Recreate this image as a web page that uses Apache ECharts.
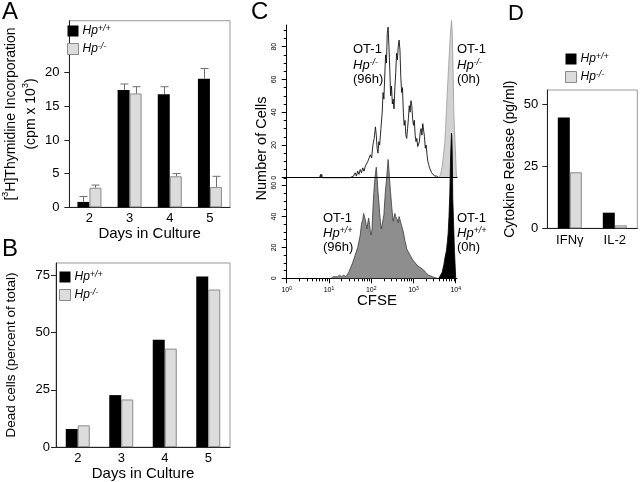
<!DOCTYPE html>
<html><head><meta charset="utf-8">
<script src="https://cdn.jsdelivr.net/npm/echarts@6/dist/echarts.min.js"></script>
<style>html,body{margin:0;padding:0;background:#fff}#c{width:640px;height:482px}</style>
</head><body><div id="c"></div>
<script>
const FONT = '"Liberation Sans", Arial, Helvetica, sans-serif';

// ---- Panel A: [3H]Thymidine incorporation ----
const days = ['2', '3', '4', '5'];
const thymWT = [0.8, 17.4, 16.8, 19.1];
const thymWTErr = [0.8, 0.9, 1.1, 1.5];
const thymKO = [2.9, 16.9, 4.6, 3.0];
const thymKOErr = [0.4, 1.0, 0.4, 1.6];
const thymTicks = [0, 5, 10, 15, 20];

// ---- Panel B: dead cells ----
const deadWT = [7.9, 22.7, 46.9, 74.5];
const deadKO = [9.5, 20.8, 43.0, 68.8];
const deadTicks = [0, 25, 50, 75];

// ---- Panel D: cytokine release ----
const cytokines = ['IFNγ', 'IL-2'];
const cytoWT = [44.7, 6.3];
const cytoKO = [22.6, 1.2];
const cytoTicks = [0, 25, 50];

// ---- Panel C: CFSE histograms (x = log10 CFSE, y = number of cells) ----
const cfseDecades = [0, 1, 2, 3, 4];
const cellsTicksTop = [0, 20, 40, 60, 80];
const cellsTicksBottom = [0, 20, 40, 60];
const ko96h = [[0.78,0],[0.80,2],[0.81,0],[0.83,2],[0.84,0],[1.50,0],[1.58,1],[1.62,3],[1.65,1],[1.68,4],[1.71,2],[1.74,5],[1.77,3],[1.80,6],[1.83,4],[1.86,7],[1.89,6],[1.92,10],[1.95,9],[1.98,14],[2.01,12],[2.04,20],[2.07,24],[2.10,31],[2.12,26],[2.14,18],[2.16,15],[2.18,22],[2.20,20],[2.23,30],[2.26,40],[2.28,52],[2.30,48],[2.32,62],[2.34,75],[2.36,70],[2.38,88],[2.40,92],[2.42,80],[2.44,66],[2.46,50],[2.48,56],[2.50,45],[2.52,48],[2.54,42],[2.56,55],[2.58,64],[2.60,76],[2.62,72],[2.64,80],[2.66,84],[2.68,78],[2.70,62],[2.72,52],[2.74,55],[2.76,40],[2.78,32],[2.80,35],[2.82,26],[2.84,24],[2.86,30],[2.88,36],[2.90,44],[2.92,40],[2.94,47],[2.96,44],[2.98,36],[3.00,32],[3.02,35],[3.04,26],[3.06,22],[3.08,24],[3.10,19],[3.12,18],[3.14,22],[3.16,28],[3.18,30],[3.20,26],[3.22,33],[3.24,32],[3.26,25],[3.28,18],[3.30,20],[3.32,14],[3.34,10],[3.36,8],[3.38,6],[3.40,5],[3.43,3],[3.46,2],[3.50,1],[3.55,1],[3.60,0]];
const ko0h = [[3.60,0],[3.64,2],[3.68,7],[3.71,14],[3.74,21],[3.76,30],[3.78,41],[3.80,52],[3.82,62],[3.84,72],[3.86,82],[3.88,90],[3.90,96],[3.92,88],[3.94,62],[3.955,40],[3.97,29],[3.99,18],[4.01,5],[4.02,0]];
const wt96h = [[1.05,0],[1.10,1],[1.20,1],[1.25,2],[1.30,1],[1.35,2],[1.40,1],[1.44,2],[1.47,4],[1.50,5],[1.53,8],[1.56,10],[1.59,9],[1.62,15],[1.65,14],[1.68,20],[1.71,24],[1.74,28],[1.77,35],[1.80,38],[1.82,42],[1.84,43],[1.86,38],[1.88,35],[1.90,32],[1.92,36],[1.94,39],[1.96,35],[1.98,30],[2.00,28],[2.02,32],[2.04,45],[2.06,55],[2.08,62],[2.10,68],[2.12,72],[2.14,65],[2.16,56],[2.18,50],[2.20,42],[2.22,36],[2.24,32],[2.26,35],[2.28,38],[2.30,41],[2.32,50],[2.34,58],[2.36,63],[2.38,70],[2.40,77],[2.42,70],[2.44,62],[2.46,55],[2.48,48],[2.50,42],[2.52,37],[2.54,38],[2.56,42],[2.58,40],[2.60,41],[2.62,38],[2.64,36],[2.66,40],[2.68,38],[2.70,39],[2.72,34],[2.74,32],[2.76,30],[2.78,27],[2.80,24],[2.82,22],[2.84,19],[2.86,20],[2.88,17],[2.90,16],[2.92,15],[2.95,14],[2.98,12],[3.01,11],[3.04,10],[3.07,9],[3.10,8],[3.13,7.5],[3.16,7],[3.20,6],[3.24,5.4],[3.28,4],[3.32,3],[3.36,2],[3.40,1.7],[3.45,1],[3.50,0.5],[3.56,0]];
const wt0h = [[3.60,0],[3.64,1],[3.68,4],[3.72,9],[3.75,14],[3.78,18],[3.80,23],[3.82,29],[3.84,40],[3.86,55],[3.87,68],[3.88,80],[3.90,94],[3.91,90],[3.92,78],[3.93,52],[3.95,35],[3.97,18],[3.99,6],[4.00,0]];

const cfseMinor = [];
for (let n = 0; n < 4; n++) for (let k = 2; k <= 9; k++) cfseMinor.push(n + Math.log10(k));
const topMinor = []; for (let v = 0; v <= 90; v += 5) topMinor.push(v);
const botMinor = []; for (let v = 0; v <= 65; v += 5) botMinor.push(v);

const chart = echarts.init(document.getElementById('c'), null, {renderer: 'canvas'});

const supRich = {
  i: {fontFamily: FONT, fontStyle: 'italic', fontSize: 12, color: '#000', lineHeight: 14},
  s: {fontFamily: FONT, fontStyle: 'italic', fontSize: 9, color: '#000', verticalAlign: 'top', lineHeight: 10}
};
const annRich = {
  i: {fontFamily: FONT, fontStyle: 'italic', fontSize: 13, fill: '#000', lineHeight: 15},
  s: {fontFamily: FONT, fontStyle: 'italic', fontSize: 9, fill: '#000', verticalAlign: 'top', lineHeight: 10}
};
const LIGHT = '#dcdcdc', LIGHTB = '#8a8a8a', AX = '#222';

function legendAt(left, top) {
  return {
    left, top, orient: 'vertical', padding: 0, itemWidth: 11, itemHeight: 11, itemGap: 5,
    selectedMode: false, icon: 'rect',
    data: [
      {name: 'Hp+/+', itemStyle: {color: '#000', borderWidth: 0}},
      {name: 'Hp-/-', itemStyle: {color: LIGHT, borderColor: LIGHTB, borderWidth: 1}}
    ],
    formatter: n => n === 'Hp+/+' ? '{i|Hp}{s|+/+}' : '{i|Hp}{s|-/-}',
    textStyle: {rich: supRich, padding: [0, 0, 0, -1]}
  };
}
function gridBox(left, top, width, height) {
  return {left, top, width, height, show: true, borderColor: '#9a9a9a', borderWidth: 1, backgroundColor: 'transparent', containLabel: false};
}
function catAxis(gi, data, margin, name, gap) {
  return {
    gridIndex: gi, type: 'category', data,
    axisLine: {lineStyle: {color: AX, width: 1}}, axisTick: {show: false},
    axisLabel: {margin, fontSize: 13, fontFamily: FONT, color: '#000'},
    name, nameLocation: 'middle', nameGap: gap,
    nameTextStyle: {fontSize: 15, fontFamily: FONT, color: '#000'}
  };
}
function valAxis(gi, max, ticks, margin, name, gap, fs, rich) {
  return {
    gridIndex: gi, type: 'value', min: 0, max,
    axisLine: {show: true, lineStyle: {color: AX, width: 1}},
    axisTick: {show: true, length: 5, customValues: ticks, lineStyle: {color: AX}},
    axisLabel: {customValues: ticks, margin, fontSize: 13, fontFamily: FONT, color: '#000'},
    splitLine: {show: false},
    name, nameLocation: 'middle', nameGap: gap,
    nameTextStyle: {fontSize: fs, fontFamily: FONT, color: '#000', lineHeight: 20, rich: rich || {}}
  };
}

function errItem(params, api) {
  const cat = api.value(0), v = api.value(1), e = api.value(2), side = api.value(3);
  const p0 = api.coord([cat, v]);
  const p1 = api.coord([cat, v + e]);
  const x = Math.round(p0[0] + side * 6) + 0.5;
  const st = {stroke: '#6e6e6e', lineWidth: 1};
  return {type: 'group', children: [
    {type: 'line', shape: {x1: x, y1: p0[1], x2: x, y2: p1[1]}, style: st},
    {type: 'line', shape: {x1: x - 4, y1: p1[1], x2: x + 4, y2: p1[1]}, style: st}
  ]};
}

const cAxisLine = {show: true, lineStyle: {color: '#000', width: 1}};
const smallRich = {
  b: {fontSize: 7, fontFamily: FONT, color: '#000'},
  s: {fontSize: 5, fontFamily: FONT, color: '#000', verticalAlign: 'top'}
};

function gtext(x, y, text, size, extra) {
  return {type: 'text', x, y, silent: true, style: Object.assign({text, fontFamily: FONT, fontSize: size, fill: '#000', align: 'left', verticalAlign: 'middle'}, extra || {})};
}
function hpText(x, y, sup) {
  return {type: 'text', x, y, silent: true, style: {text: '{i|Hp}{s|' + sup + '}', rich: annRich, fill: '#000', align: 'left', verticalAlign: 'middle'}};
}

const option = {
  animation: false,
  backgroundColor: '#fff',
  textStyle: {fontFamily: FONT},
  grid: [
    gridBox(60, 20.7, 170, 186.6),      // A
    gridBox(52, 263, 178, 186.3),       // B
    gridBox(547.3, 90, 90, 138.3),      // D
    {left: 286.7, top: 25, width: 170.3, height: 152.7, show: false},   // C top
    {left: 286.7, top: 177.7, width: 170.3, height: 100.6, show: false} // C bottom
  ],
  legend: [legendAt(67, 24), legendAt(59, 270), legendAt(565, 52)],
  xAxis: [
    catAxis(0, days, 5, 'Days in Culture', 15),
    catAxis(1, days, 5, 'Days in Culture', 15),
    catAxis(2, cytokines, 6, '', 15),
    {gridIndex: 3, type: 'value', position: 'bottom', min: 0, max: 4.03, z: 10, axisLine: cAxisLine, axisTick: {show: false}, axisLabel: {show: false}, splitLine: {show: false}},
    {gridIndex: 4, type: 'value', position: 'bottom', min: 0, max: 4.03, axisLine: cAxisLine,
      axisTick: {show: true, length: 5, customValues: cfseDecades, lineStyle: {color: '#000'}},
      axisLabel: {customValues: cfseDecades, margin: 8, formatter: v => '{b|10}{s|' + v + '}', rich: smallRich},
      splitLine: {show: false}},
    {gridIndex: 4, type: 'value', position: 'bottom', offset: 0, min: 0, max: 4.03, axisLine: {show: false},
      axisTick: {show: true, length: 3, customValues: cfseMinor, lineStyle: {color: '#000'}},
      axisLabel: {show: false}, splitLine: {show: false}}
  ],
  yAxis: [
    valAxis(0, 27.7, thymTicks, 10, '[{s|3}H]Thymidine Incorporation\n(cpm x 10{s|3})', 20, 14,
      {s: {fontSize: 9, fontFamily: FONT, color: '#000', verticalAlign: 'top', lineHeight: 10}}),
    valAxis(1, 80.4, deadTicks, 6, 'Dead cells (percent of total)', 35, 13.5),
    valAxis(2, 55.8, cytoTicks, 9, 'Cytokine Release (pg/ml)', 25, 14),
    {gridIndex: 3, type: 'value', position: 'left', min: 0, max: 93.25, axisLine: cAxisLine,
      axisTick: {show: true, length: 5, customValues: cellsTicksTop, lineStyle: {color: '#000'}},
      axisLabel: {customValues: cellsTicksTop, rotate: 90, margin: 9, fontSize: 7, fontFamily: FONT, color: '#000'},
      splitLine: {show: false}},
    {gridIndex: 3, type: 'value', position: 'left', offset: 0, min: 0, max: 93.25, axisLine: {show: false},
      axisTick: {show: true, length: 3, customValues: topMinor, lineStyle: {color: '#000'}},
      axisLabel: {show: false}, splitLine: {show: false}},
    {gridIndex: 4, type: 'value', position: 'left', min: 0, max: 65.2, axisLine: cAxisLine,
      axisTick: {show: true, length: 5, customValues: cellsTicksBottom, lineStyle: {color: '#000'}},
      axisLabel: {customValues: cellsTicksBottom, rotate: 90, margin: 9, fontSize: 7, fontFamily: FONT, color: '#000'},
      splitLine: {show: false}},
    {gridIndex: 4, type: 'value', position: 'left', offset: 0, min: 0, max: 65.2, axisLine: {show: false},
      axisTick: {show: true, length: 3, customValues: botMinor, lineStyle: {color: '#000'}},
      axisLabel: {show: false}, splitLine: {show: false}}
  ],
  series: [
    // A
    {type: 'bar', name: 'Hp+/+', xAxisIndex: 0, yAxisIndex: 0, data: thymWT, barWidth: 12, barGap: '0%', itemStyle: {color: '#000'}, silent: true},
    {type: 'bar', name: 'Hp-/-', xAxisIndex: 0, yAxisIndex: 0, data: thymKO, barWidth: 12, barGap: '0%', itemStyle: {color: LIGHT, borderColor: LIGHTB, borderWidth: 1}, silent: true},
    {type: 'custom', name: 'errWT', xAxisIndex: 0, yAxisIndex: 0, renderItem: errItem, encode: {x: 0, y: 1}, silent: true, z: 3,
      data: thymWT.map((v, i) => [i, v, thymWTErr[i], -1])},
    {type: 'custom', name: 'errKO', xAxisIndex: 0, yAxisIndex: 0, renderItem: errItem, encode: {x: 0, y: 1}, silent: true, z: 3,
      data: thymKO.map((v, i) => [i, v, thymKOErr[i], 1])},
    // B
    {type: 'bar', name: 'Hp+/+', xAxisIndex: 1, yAxisIndex: 1, data: deadWT, barWidth: 12, barGap: '0%', itemStyle: {color: '#000'}, silent: true},
    {type: 'bar', name: 'Hp-/-', xAxisIndex: 1, yAxisIndex: 1, data: deadKO, barWidth: 12, barGap: '0%', itemStyle: {color: LIGHT, borderColor: LIGHTB, borderWidth: 1}, silent: true},
    // D
    {type: 'bar', name: 'Hp+/+', xAxisIndex: 2, yAxisIndex: 2, data: cytoWT, barWidth: 12, barGap: '0%', itemStyle: {color: '#000'}, silent: true},
    {type: 'bar', name: 'Hp-/-', xAxisIndex: 2, yAxisIndex: 2, data: cytoKO, barWidth: 12, barGap: '0%', itemStyle: {color: LIGHT, borderColor: LIGHTB, borderWidth: 1}, silent: true},
    // C
    {type: 'line', name: 'OT-1 Hp-/- (0h)', xAxisIndex: 3, yAxisIndex: 3, data: ko0h, symbol: 'none', clip: false, silent: true,
      lineStyle: {color: '#9a9a9a', width: 0.8}, areaStyle: {color: '#d2d2d2', opacity: 1}},
    {type: 'line', name: 'OT-1 Hp+/+ (96h)', xAxisIndex: 4, yAxisIndex: 5, data: wt96h, symbol: 'none', clip: false, silent: true,
      lineStyle: {color: '#3a3a3a', width: 0.8}, areaStyle: {color: '#8e8e8e', opacity: 1}},
    {type: 'line', name: 'OT-1 Hp+/+ (0h)', xAxisIndex: 4, yAxisIndex: 5, data: wt0h, symbol: 'none', clip: false, silent: true,
      lineStyle: {color: '#000', width: 0.8}, areaStyle: {color: '#000', opacity: 1}},
    {type: 'line', name: 'OT-1 Hp-/- (96h)', xAxisIndex: 3, yAxisIndex: 3, data: ko96h, symbol: 'none', clip: false, silent: true,
      lineStyle: {color: '#111', width: 0.9}}
  ],
  graphic: [
    gtext(2, 12, 'A', 24),
    gtext(2, 249, 'B', 24),
    gtext(251, 12, 'C', 24),
    gtext(508, 14, 'D', 22),
    Object.assign(gtext(262, 148.5, 'Number of Cells', 14.5, {align: 'center'}), {rotation: Math.PI / 2}),
    gtext(377, 301.3, 'CFSE', 15, {align: 'center'}),
    gtext(353, 49.7, 'OT-1', 13), hpText(353, 65, '-/-'), gtext(353, 79.5, '(96h)', 13),
    gtext(457, 49.7, 'OT-1', 13), hpText(457, 65, '-/-'), gtext(457, 79.5, '(0h)', 13),
    gtext(323, 218, 'OT-1', 13), hpText(323, 233.5, '+/+'), gtext(323, 247.5, '(96h)', 13),
    gtext(457, 218, 'OT-1', 13), hpText(457, 233.5, '+/+'), gtext(457, 247.5, '(0h)', 13)
  ]
};
chart.setOption(option);
</script>
</body></html>
